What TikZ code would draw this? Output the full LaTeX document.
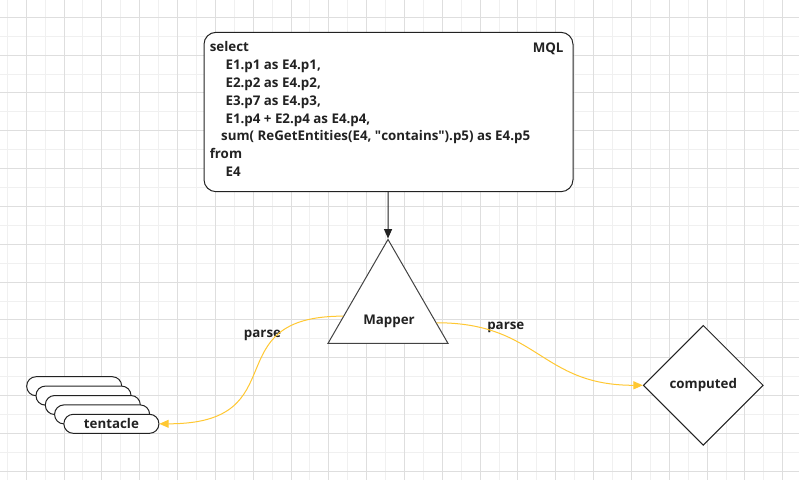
\documentclass[tikz,border=0pt]{standalone}
\usepackage{fontspec}
\setmainfont{Open Sans}
\usepackage{xcolor}
\definecolor{Grid-major}{RGB}{222,222,222}
\definecolor{Grid-minor}{RGB}{240,240,240}
\definecolor{Edge-yellow}{RGB}{255,200,50}
\definecolor{Ink}{RGB}{34,34,34}
\usepackage{tikz}
\usetikzlibrary{arrows.meta,shapes.geometric,calc,positioning}

\begin{document}
\begin{tikzpicture} [ % 先定义每类点的样式
            x=0.75pt, y=-0.75pt, line width=0.75pt, >={Triangle[length=7pt,width=6pt]},
            font=\fontsize{10}{13.4}\selectfont\bfseries, text=Ink,
            codebox/.style = {rectangle, rounded corners=9pt, minimum width=276.75pt, minimum height=119.5pt, inner sep=0pt, draw=Ink, fill=white},
            tri/.style = {regular polygon, regular polygon sides=3, minimum size=103.9pt, inner sep=0pt, draw=Ink!85, fill=white},
            pill/.style = {rectangle, rounded corners=7pt, minimum width=71.25pt, minimum height=14.25pt, inner sep=0pt, draw=Ink, fill=white},
            dia/.style = {diamond, minimum width=90pt, minimum height=90pt, inner sep=0pt, draw=Ink, fill=white},
            txt/.style = {inner sep=0pt},
            gridmajor/.style = {draw=Grid-major, line width=0.75pt},
            gridminor/.style = {draw=Grid-minor, line width=0.75pt},
            parseline/.style = {->, draw=Edge-yellow}
        ]

        % 背景网格
        \fill [white] (0,0) rectangle (799,480);
        \begin{scope}
            \clip (0,0) rectangle (799,480);
            \foreach \k in {0,...,20} \draw [gridminor] ({7.3+37.83*\k},0) -- ++(0,480);
            \foreach \k in {0,...,11} \draw [gridminor] (0,{36.2+37.83*\k}) -- ++(799,0);
            \foreach \k in {0,...,20} \draw [gridmajor] ({26.2+37.83*\k},0) -- ++(0,480);
            \foreach \k in {0,...,12} \draw [gridmajor] (0,{17.3+37.83*\k}) -- ++(799,0);
        \end{scope}

        % 上方 MQL 框
        \node [codebox] (mql) at (388.5,112) {};
        \node [txt, anchor=north west, align=left] (code) at (209.3,40.9) {select\\
            \hspace*{11.8pt}E1.p1 as E4.p1,\\
            \hspace*{11.8pt}E2.p2 as E4.p2,\\
            \hspace*{11.8pt}E3.p7 as E4.p3,\\
            \hspace*{11.8pt}E1.p4 + E2.p4 as E4.p4,\\
            \hspace*{8.5pt}sum( ReGetEntities(E4, \textquotedbl contains\textquotedbl).p5) as E4.p5\\
            from\\
            \hspace*{11.8pt}E4};
        \node [txt, anchor=east] (mqltag) at (564,48.3) {MQL};

        % 中间三角形
        \node [tri] (mapper) at (388,308.7) {};
        \node [txt, anchor=base] (mapperlbl) at (389,324) {Mapper};

        % 左边 tentacle
        \node [pill] (t1) at (74.2,386.2) {};
        \node [pill] (t2) at (83.5,395.6) {};
        \node [pill] (t3) at (92.8,405) {};
        \node [pill] (t4) at (102.1,414.4) {};
        \node [pill] (t5) at (111.4,423.8) {tentacle};

        % 右边菱形
        \node [dia] (comp) at (703.3,385.3) {computed};

        % 标签
        \node [txt, anchor=base] (parsel) at (262.5,337.7) {parse};
        \node [txt, anchor=base] (parser) at (505.8,329.3) {parse};

        % 连线
        \draw [->, draw=Ink] (mql) -- (mapper.corner 1);
        \draw [parseline] ($(mapper.corner 1)!.737!(mapper.corner 2)$) .. controls +(-130,0) and +(139,0) .. (t5.east);
        \draw [parseline] ($(mapper.corner 1)!.80!(mapper.corner 3)$) .. controls +(102,0) and +(-103,0) .. (comp.west);

    \end{tikzpicture}
\end{document}
